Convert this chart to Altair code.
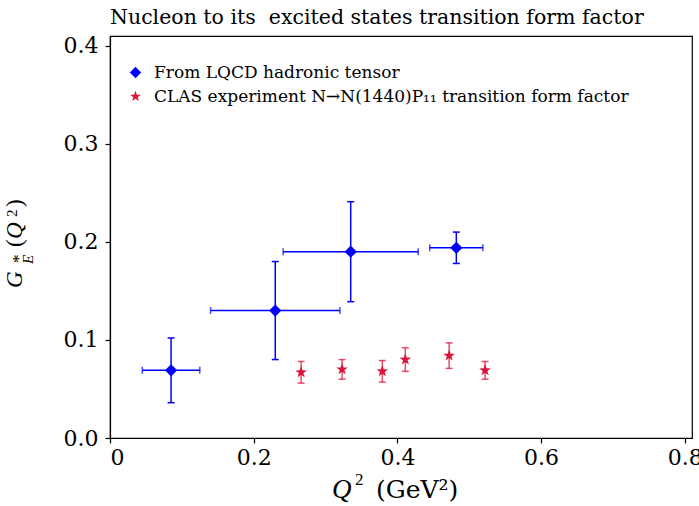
import altair as alt
import pandas as pd

# Lattice QCD hadronic-tensor results: Q^2 (GeV^2) and G*_E with errors
lqcd_q2 = [0.085, 0.230, 0.335, 0.482]
lqcd_q2_err = [0.040, 0.090, 0.094, 0.037]
lqcd_ge = [0.069, 0.130, 0.190, 0.194]
lqcd_ge_err = [0.033, 0.050, 0.051, 0.016]

# CLAS N -> N(1440) P11 transition form factor
clas_q2 = [0.266, 0.323, 0.379, 0.411, 0.472, 0.522]
clas_ge = [0.067, 0.070, 0.068, 0.080, 0.084, 0.069]
clas_ge_err = [0.011, 0.010, 0.011, 0.012, 0.013, 0.009]

series_names = [
    "From LQCD hadronic tensor",
    "CLAS experiment N\u2192N(1440)P\u2081\u2081 transition form factor",
]
series_colors = ["#0000ff", "#dc143c"]
# five-pointed star as an SVG path in the unit symbol box
STAR = ("M0,-1L0.235,-0.324L0.951,-0.309L0.380,0.124L0.588,0.809L0,0.4"
        "L-0.588,0.809L-0.380,0.124L-0.951,-0.309L-0.235,-0.324Z")
series_shapes = ["diamond", STAR]
x_ticks = [0, 0.2, 0.4, 0.6, 0.8]
y_ticks = [0, 0.1, 0.2, 0.3, 0.4]

lqcd = pd.DataFrame({
    "q2": lqcd_q2, "q2_err": lqcd_q2_err,
    "ge": lqcd_ge, "ge_err": lqcd_ge_err,
    "series": series_names[0],
})
lqcd["ge_lo"] = lqcd["ge"] - lqcd["ge_err"]
lqcd["ge_hi"] = lqcd["ge"] + lqcd["ge_err"]
lqcd["q2_lo"] = lqcd["q2"] - lqcd["q2_err"]
lqcd["q2_hi"] = lqcd["q2"] + lqcd["q2_err"]

clas = pd.DataFrame({
    "q2": clas_q2, "ge": clas_ge, "ge_err": clas_ge_err,
    "series": series_names[1],
})
clas["ge_lo"] = clas["ge"] - clas["ge_err"]
clas["ge_hi"] = clas["ge"] + clas["ge_err"]

points = pd.concat([lqcd[["q2", "ge", "series"]], clas[["q2", "ge", "series"]]],
                   ignore_index=True)

xs = alt.Scale(domain=[0, 0.81], nice=False, zero=False)
ys = alt.Scale(domain=[0, 0.41], nice=False, zero=False)

x_axis = alt.Axis(
    values=x_ticks, title=None, grid=False, orient="bottom", labelPadding=4,
    labelExpr="datum.value == 0 ? '0' : format(datum.value, '.1f')",
)
y_axis = alt.Axis(
    values=y_ticks, title=None, grid=False, orient="left", labelPadding=7,
    labelExpr="format(datum.value, '.1f')",
)

BLUE, RED = series_colors


def vbars(df, color, opacity):
    base = alt.Chart(df)
    bar = base.mark_rule(color=color, strokeWidth=1.5, opacity=opacity).encode(
        x=alt.X("q2:Q", scale=xs, axis=x_axis),
        y=alt.Y("ge_lo:Q", scale=ys, axis=y_axis),
        y2="ge_hi:Q",
    )
    cap_lo = base.mark_tick(color=color, orient="horizontal", size=7,
                            thickness=1.5, opacity=opacity).encode(
        x=alt.X("q2:Q", scale=xs, axis=x_axis),
        y=alt.Y("ge_lo:Q", scale=ys, axis=y_axis))
    cap_hi = base.mark_tick(color=color, orient="horizontal", size=7,
                            thickness=1.5, opacity=opacity).encode(
        x=alt.X("q2:Q", scale=xs, axis=x_axis),
        y=alt.Y("ge_hi:Q", scale=ys, axis=y_axis))
    return [bar, cap_lo, cap_hi]


def hbars(df, color):
    base = alt.Chart(df)
    bar = base.mark_rule(color=color, strokeWidth=1.5).encode(
        x=alt.X("q2_lo:Q", scale=xs, axis=x_axis), x2="q2_hi:Q",
        y=alt.Y("ge:Q", scale=ys, axis=y_axis),
    )
    cap_lo = base.mark_tick(color=color, orient="vertical", size=7,
                            thickness=1.5).encode(
        x=alt.X("q2_lo:Q", scale=xs, axis=x_axis),
        y=alt.Y("ge:Q", scale=ys, axis=y_axis))
    cap_hi = base.mark_tick(color=color, orient="vertical", size=7,
                            thickness=1.5).encode(
        x=alt.X("q2_hi:Q", scale=xs, axis=x_axis),
        y=alt.Y("ge:Q", scale=ys, axis=y_axis))
    return [bar, cap_lo, cap_hi]


markers = alt.Chart(points).mark_point(filled=True, size=150, opacity=1).encode(
    x=alt.X("q2:Q", scale=xs, axis=x_axis),
    y=alt.Y("ge:Q", scale=ys, axis=y_axis),
    color=alt.Color(
        "series:N",
        scale=alt.Scale(domain=series_names, range=series_colors),
        legend=alt.Legend(title=None),
        sort=series_names,
    ),
    shape=alt.Shape(
        "series:N",
        scale=alt.Scale(domain=series_names, range=series_shapes),
        legend=alt.Legend(title=None),
        sort=series_names,
    ),
)


def label(text, x, y, size, italic=False, angle=0, font="DejaVu Serif"):
    return alt.Chart(pd.DataFrame({"t": [text]})).mark_text(
        font=font, fontSize=size, fontStyle="italic" if italic else "normal",
        align="left", baseline="alphabetic", angle=angle, color="black",
    ).encode(x=alt.value(x), y=alt.value(y), text="t:N")


MATH = "Liberation Serif"
# x-axis title: Q^2 (GeV^2)
x_title = [
    label("Q", 222, 462, 27, italic=True, font=MATH),
    label("2", 245, 449, 17, font=MATH),
    label("(GeV\u00b2)", 266, 462, 25),
]
# y-axis title: G*_E(Q^2), rotated
y_title = [
    label("G", -88, 252, 23, italic=True, angle=270, font=MATH),
    label("*", -86, 227, 17, angle=270, font=MATH),
    label("E", -77, 228, 15, italic=True, angle=270, font=MATH),
    label("(", -88, 211, 23, angle=270, font=MATH),
    label("Q", -88, 203, 23, italic=True, angle=270, font=MATH),
    label("2", -93, 181, 15, angle=270, font=MATH),
    label(")", -88, 171, 23, angle=270, font=MATH),
]

layers = (
    vbars(clas, RED, 0.75)
    + vbars(lqcd, BLUE, 1.0)
    + hbars(lqcd, BLUE)
    + [markers]
    + x_title
    + y_title
)

chart = alt.layer(*layers).resolve_scale(
    color="shared", shape="shared"
).properties(
    width=582,
    height=402,
    padding={"left": 110, "top": 36, "right": 7, "bottom": 68},
    autosize=alt.AutoSizeParams(type="none"),
    title=alt.TitleParams(
        "Nucleon to its\u00a0 excited states transition form factor",
        anchor="start", font="DejaVu Serif", fontSize=20.5, fontWeight="normal",
        offset=6, frame="group", color="black",
    ),
).configure_view(
    stroke="black", strokeWidth=1.2
).configure_axis(
    labelFont="DejaVu Serif", labelFontSize=22, labelColor="black",
    domainColor="black", tickColor="black", tickSize=5, tickWidth=1.2,
    domainWidth=1.2,
).configure_legend(
    orient="none", legendX=17, legendY=28, labelFont="DejaVu Serif",
    labelFontSize=17, labelColor="black", symbolSize=130, rowPadding=6,
    labelOffset=10, labelLimit=0,
)

chart.save("out.html", embed_options={"renderer": "svg", "actions": False})
